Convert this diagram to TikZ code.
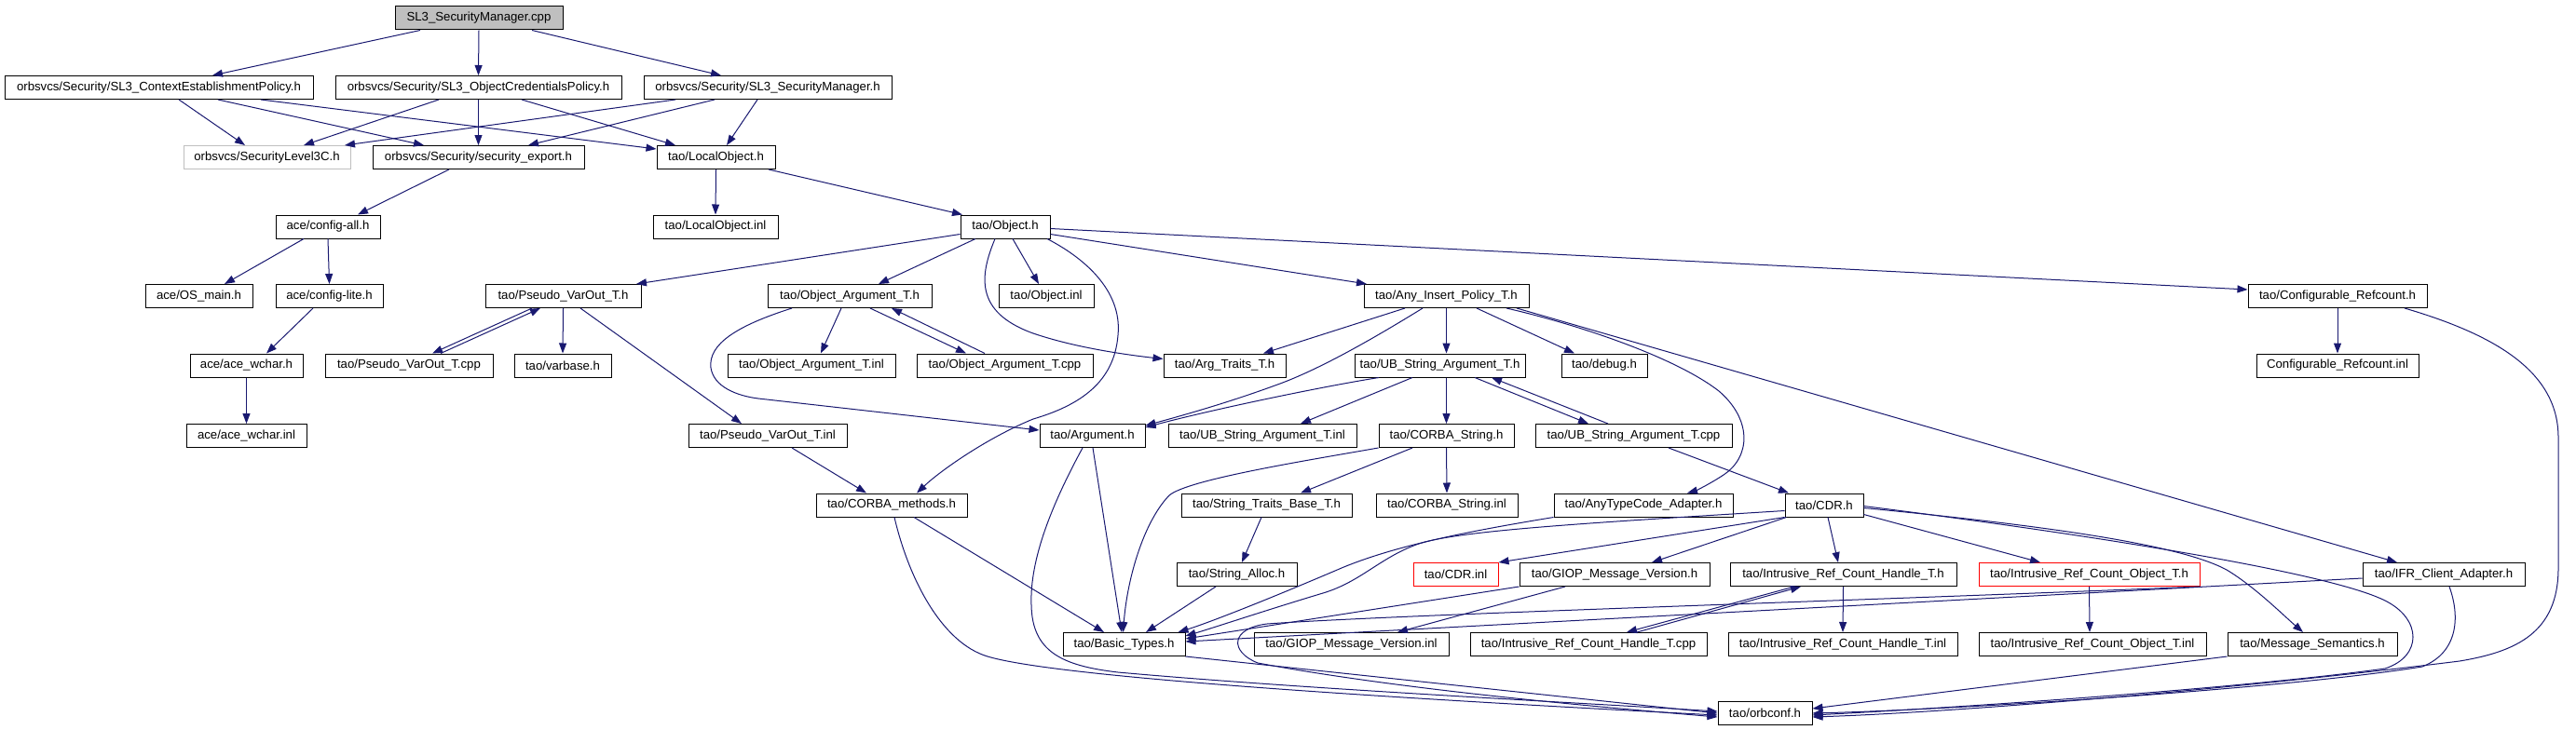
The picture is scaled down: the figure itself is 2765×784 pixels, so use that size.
\documentclass[tikz,border=0pt]{standalone}
\usepackage{fontspec}
\setmainfont{Liberation Sans}
\usetikzlibrary{arrows.meta}
\definecolor{edgeblue}{HTML}{191970}
\definecolor{gnode}{HTML}{BFBFBF}
\tikzset{
  box/.style={draw=black, fill=white, line width=1pt, minimum height=25pt, inner sep=0pt, anchor=center, font=\fontsize{13.2}{15}\selectfont},
  graybox/.style={box, draw=gnode},
  redbox/.style={box, draw=red},
  rootbox/.style={box, fill=gnode},
  edge/.style={draw=edgeblue, line width=1pt, -{Triangle[length=11pt,width=8pt]}}
}
\begin{document}
\begin{tikzpicture}[x=1pt,y=-1pt]
\useasboundingbox (0,0) rectangle (2765,784);
% row 0
\node[rootbox, minimum width=180pt] (cpp) at (514,19.5) {SL3\_SecurityManager.cpp};
% row 1
\node[box, minimum width=331pt] (ctx) at (170.5,94) {orbsvcs/Security/SL3\_ContextEstablishmentPolicy.h};
\node[box, minimum width=307pt] (cred) at (513.5,94) {orbsvcs/Security/SL3\_ObjectCredentialsPolicy.h};
\node[box, minimum width=266pt] (sl3h) at (824,94) {orbsvcs/Security/SL3\_SecurityManager.h};
% row 2
\node[graybox, minimum width=179pt] (lvl3c) at (286.5,169) {orbsvcs/SecurityLevel3C.h};
\node[box, minimum width=227pt] (secexp) at (513.5,169) {orbsvcs/Security/security\_export.h};
\node[box, minimum width=127pt] (locobj) at (768.5,169) {tao/LocalObject.h};
% row 3
\node[box, minimum width=112pt] (cfgall) at (352,243.5) {ace/config-all.h};
\node[box, minimum width=134pt] (locinl) at (768,243.5) {tao/LocalObject.inl};
\node[box, minimum width=96pt] (objh) at (1079,243.5) {tao/Object.h};
% row 4
\node[box, minimum width=115pt] (osmain) at (213.5,318) {ace/OS\_main.h};
\node[box, minimum width=115pt] (cfglite) at (353.5,318) {ace/config-lite.h};
\node[box, minimum width=167pt] (pvoh) at (604.5,318) {tao/Pseudo\_VarOut\_T.h};
\node[box, minimum width=176pt] (oath) at (912,318) {tao/Object\_Argument\_T.h};
\node[box, minimum width=102pt] (objinl) at (1123,318) {tao/Object.inl};
\node[box, minimum width=177pt] (aiph) at (1552.5,318) {tao/Any\_Insert\_Policy\_T.h};
\node[box, minimum width=192pt] (cfgrc) at (2509,318) {tao/Configurable\_Refcount.h};
% row 5
\node[box, minimum width=121pt] (wcharh) at (264.5,392.5) {ace/ace\_wchar.h};
\node[box, minimum width=180pt] (pvocpp) at (439,392.5) {tao/Pseudo\_VarOut\_T.cpp};
\node[box, minimum width=104pt] (varbase) at (604,392.5) {tao/varbase.h};
\node[box, minimum width=180pt] (oatinl) at (871,392.5) {tao/Object\_Argument\_T.inl};
\node[box, minimum width=189pt] (oatcpp) at (1078.5,392.5) {tao/Object\_Argument\_T.cpp};
\node[box, minimum width=131pt] (argtr) at (1314.5,392.5) {tao/Arg\_Traits\_T.h};
\node[box, minimum width=183pt] (ubsah) at (1545.5,392.5) {tao/UB\_String\_Argument\_T.h};
\node[box, minimum width=92pt] (debugh) at (1722,392.5) {tao/debug.h};
\node[box, minimum width=174pt] (cfgrcinl) at (2509,392.5) {Configurable\_Refcount.inl};
% row 6
\node[box, minimum width=129pt] (wcharinl) at (264.5,468) {ace/ace\_wchar.inl};
\node[box, minimum width=170pt] (pvoinl) at (824,468) {tao/Pseudo\_VarOut\_T.inl};
\node[box, minimum width=113pt] (argh) at (1172.5,468) {tao/Argument.h};
\node[box, minimum width=202pt] (ubsainl) at (1355,468) {tao/UB\_String\_Argument\_T.inl};
\node[box, minimum width=145pt] (cstrh) at (1552.5,468) {tao/CORBA\_String.h};
\node[box, minimum width=211pt] (ubsacpp) at (1753.5,468) {tao/UB\_String\_Argument\_T.cpp};
% row 7
\node[box, minimum width=162pt] (cmeth) at (957,542.5) {tao/CORBA\_methods.h};
\node[box, minimum width=183pt] (stbh) at (1359.5,542.5) {tao/String\_Traits\_Base\_T.h};
\node[box, minimum width=152pt] (cstrinl) at (1553,542.5) {tao/CORBA\_String.inl};
\node[box, minimum width=192pt] (atca) at (1764,542.5) {tao/AnyTypeCode\_Adapter.h};
\node[box, minimum width=84pt] (cdrh) at (1958,542.5) {tao/CDR.h};
% row 8
\node[box, minimum width=129pt] (salloc) at (1327.5,617) {tao/String\_Alloc.h};
\node[redbox, minimum width=91pt] (cdrinl) at (1562.5,617) {tao/CDR.inl};
\node[box, minimum width=204pt] (giopH) at (1733,617) {tao/GIOP\_Message\_Version.h};
\node[box, minimum width=243pt] (irchh) at (1978.5,617) {tao/Intrusive\_Ref\_Count\_Handle\_T.h};
\node[redbox, minimum width=237pt] (ircoh) at (2242.5,617) {tao/Intrusive\_Ref\_Count\_Object\_T.h};
\node[box, minimum width=174pt] (ifr) at (2623,617) {tao/IFR\_Client\_Adapter.h};
% row 9
\node[box, minimum width=131pt] (btypes) at (1206.5,692) {tao/Basic\_Types.h};
\node[box, minimum width=209pt] (giopinl) at (1450.5,692) {tao/GIOP\_Message\_Version.inl};
\node[box, minimum width=254pt] (irchcpp) at (1705,692) {tao/Intrusive\_Ref\_Count\_Handle\_T.cpp};
\node[box, minimum width=246pt] (irchinl) at (1978,692) {tao/Intrusive\_Ref\_Count\_Handle\_T.inl};
\node[box, minimum width=244pt] (ircoinl) at (2246,692) {tao/Intrusive\_Ref\_Count\_Object\_T.inl};
\node[box, minimum width=182pt] (msgsem) at (2482,692) {tao/Message\_Semantics.h};
% row 10
\node[box, minimum width=101pt] (orbconf) at (1894.5,766) {tao/orbconf.h};

% edges
\draw[edge] ([xshift=-63pt]cpp.south) -- ([xshift=57.5pt]ctx.north);
\draw[edge] (cpp.south) -- (cred.north);
\draw[edge] ([xshift=57pt]cpp.south) -- ([xshift=-50pt]sl3h.north);
\draw[edge] ([xshift=21.5pt]ctx.south) -- ([xshift=-23.5pt]lvl3c.north);
\draw[edge] ([xshift=63.5pt]ctx.south) -- ([xshift=-58.5pt]secexp.north);
\draw[edge] ([xshift=109.5pt]ctx.south) -- ([yshift=9pt]locobj.west);
\draw[edge] ([xshift=-42.5pt]cred.south) -- ([xshift=39.5pt]lvl3c.north);
\draw[edge] (cred.south) -- (secexp.north);
\draw[edge] ([xshift=46.5pt]cred.south) -- ([xshift=-43.5pt]locobj.north);
\draw[edge] ([xshift=-99pt]sl3h.south) -- ([xshift=83.5pt]lvl3c.north);
\draw[edge] ([xshift=-57pt]sl3h.south) -- ([xshift=53.5pt]secexp.north);
\draw[edge] ([xshift=-11pt]sl3h.south) -- ([xshift=11.5pt]locobj.north);
\draw[edge] ([xshift=-31.5pt]secexp.south) -- ([xshift=32pt]cfgall.north);
\draw[edge] (locobj.south) -- (locinl.north);
\draw[edge] ([xshift=56.5pt]locobj.south) -- ([xshift=-46pt]objh.north);
\draw[edge] ([xshift=-26pt]cfgall.south) -- ([xshift=27.5pt]osmain.north);
\draw[edge] (cfgall.south) -- (cfglite.north);
\draw[edge] ([xshift=-17.5pt]cfglite.south) -- ([xshift=21.5pt]wcharh.north);
\draw[edge] (wcharh.south) -- (wcharinl.north);
\draw[edge] ([yshift=-8pt]objh.west) -- ([xshift=78.5pt]pvoh.north);
\draw[edge] ([xshift=-32pt]objh.south) -- ([xshift=31pt]oath.north);
\draw[edge] ([xshift=8pt]objh.south) -- ([xshift=-8pt]objinl.north);
\draw[edge] ([xshift=-11pt]objh.south) .. controls (1052,295) and (1045,335) .. (1109,358) .. controls (1150,372) and (1200,380) .. ([yshift=7pt]argtr.west);
\draw[edge] ([xshift=45pt]objh.south) .. controls (1160,275) and (1205,310) .. (1200,360) .. controls (1196,410) and (1160,435) .. (1109,450) .. controls (1060,470) and (1010,505) .. ([xshift=27pt]cmeth.north);
\draw[edge] ([yshift=-8pt]objh.east) -- ([xshift=-85.5pt]aiph.north);
\draw[edge] ([yshift=-2pt]objh.east) -- ([yshift=7pt]cfgrc.west);
\draw[edge] ([xshift=-33.5pt]pvoh.south) -- ([xshift=25pt]pvocpp.north);
\draw[edge] ([xshift=34pt]pvocpp.north) -- ([xshift=-24.5pt]pvoh.south);
\draw[edge] (pvoh.south) -- (varbase.north);
\draw[edge] ([xshift=18.5pt]pvoh.south) -- ([xshift=-28pt]pvoinl.north);
\draw[edge] ([xshift=26pt]pvoinl.south) -- ([xshift=-27pt]cmeth.north);
\draw[edge] ([xshift=-9pt]oath.south) -- ([xshift=10pt]oatinl.north);
\draw[edge] ([xshift=22pt]oath.south) -- ([xshift=-41.5pt]oatcpp.north);
\draw[edge] ([xshift=-21.5pt]oatcpp.north) -- ([xshift=45pt]oath.south);
\draw[edge] ([xshift=-62pt]oath.south) .. controls (790,350) and (760,370) .. (763,395) .. controls (766,415) and (790,425) .. (814,428) -- ([yshift=6pt]argh.west);
\draw[edge] ([xshift=-44.5pt]aiph.south) -- ([xshift=41.5pt]argtr.north);
\draw[edge] ([xshift=-25.5pt]aiph.south) .. controls (1480,360) and (1420,395) .. (1374,412) .. controls (1320,432) and (1270,446) .. ([yshift=-2pt]argh.north east);
\draw[edge] (aiph.south) -- ([xshift=7pt]ubsah.north);
\draw[edge] ([xshift=32.5pt]aiph.south) -- ([xshift=-32pt]debugh.north);
\draw[edge] ([xshift=64.5pt]aiph.south) .. controls (1700,350) and (1800,385) .. (1845,420) .. controls (1880,450) and (1880,490) .. (1850,510) .. controls (1835,520) and (1820,527) .. ([xshift=47pt]atca.north);
\draw[edge] ([xshift=75.5pt]aiph.south) -- ([xshift=-50pt]ifr.north);
\draw[edge] ([xshift=-65.5pt]ubsah.south) .. controls (1420,415) and (1300,440) .. ([yshift=-4pt]argh.north east);
\draw[edge] ([xshift=-29.5pt]ubsah.south) -- ([xshift=41pt]ubsainl.north);
\draw[edge] ([xshift=7pt]ubsah.south) -- (cstrh.north);
\draw[edge] ([xshift=37.5pt]ubsah.south) -- ([xshift=-48.5pt]ubsacpp.north);
\draw[edge] ([xshift=-27.5pt]ubsacpp.north) -- ([xshift=55.5pt]ubsah.south);
\draw[edge] (cstrh.south west) .. controls (1400,495) and (1275,515) .. (1255,532) .. controls (1228,560) and (1210,620) .. ([xshift=-1pt]btypes.north);
\draw[edge] ([xshift=-36.5pt]cstrh.south) -- ([xshift=36.5pt]stbh.north);
\draw[edge] (cstrh.south) -- (cstrinl.north);
\draw[edge] ([xshift=37.5pt]ubsacpp.south) -- ([xshift=-38pt]cdrh.north);
\draw[edge] ([xshift=-5.5pt]stbh.south) -- ([xshift=5.5pt]salloc.north);
\draw[edge] ([xshift=-22.5pt]salloc.south) -- ([xshift=23.5pt]btypes.north);
\draw[edge] ([xshift=0.5pt]argh.south) -- ([xshift=-2.5pt]btypes.north);
\draw[edge] ([xshift=-10.5pt]argh.south) .. controls (1130,540) and (1105,600) .. (1107,650) .. controls (1108,700) and (1140,715) .. (1200,722) .. controls (1400,740) and (1700,755) .. ([yshift=2pt]orbconf.west);
\draw[edge] ([xshift=24pt]cmeth.south) -- ([xshift=-21.5pt]btypes.north);
\draw[edge] ([xshift=3pt]cmeth.south) .. controls (975,620) and (1010,690) .. (1060,705) .. controls (1110,720) and (1300,740) .. ([yshift=-2pt]orbconf.west);
\draw[edge] (btypes.south east) -- (orbconf.west);
\draw[edge] (atca.south west) .. controls (1580,570) and (1500,585) .. (1440,610) .. controls (1370,640) and (1300,668) .. ([xshift=-8pt]btypes.north east);
\draw[edge] ([yshift=-6pt]cdrh.west) .. controls (1700,562) and (1560,570) .. (1520,585) .. controls (1480,600) and (1460,625) .. (1420,637) .. controls (1360,655) and (1300,675) .. ([yshift=9pt]btypes.east);
\draw[edge] (cdrh.south west) -- (cdrinl.north east);
\draw[edge] ([xshift=2pt]cdrh.south west) -- ([xshift=40pt]giopH.north);
\draw[edge] ([xshift=4pt]cdrh.south) -- ([xshift=-5.5pt]irchh.north);
\draw[edge] ([yshift=-10pt]cdrh.east) -- ([xshift=-52.5pt]ircoh.north);
\draw[edge] ([yshift=-3pt]cdrh.east) .. controls (2200,565) and (2340,585) .. (2390,612) .. controls (2420,630) and (2450,660) .. ([xshift=-10pt]msgsem.north);
\draw[edge] ([yshift=-1pt]cdrh.east) .. controls (2250,575) and (2500,615) .. (2560,645) .. controls (2600,665) and (2600,705) .. (2560,718) .. controls (2400,740) and (2100,760) .. ([yshift=-2pt]orbconf.east);
\draw[edge] ([xshift=-53pt]giopH.south) -- ([xshift=49.5pt]giopinl.north);
\draw[edge] (giopH.south west) -- ([yshift=6pt]btypes.east);
\draw[edge] ([xshift=-52.5pt]irchh.south) -- ([xshift=41pt]irchcpp.north);
\draw[edge] ([xshift=52pt]irchcpp.north) -- ([xshift=-45.5pt]irchh.south);
\draw[edge] (irchh.south) -- (irchinl.north);
\draw[edge] (ircoh.south) -- ([xshift=-3pt]ircoinl.north);
\draw[edge] (msgsem.south west) -- ([yshift=5pt]orbconf.east);
\draw[edge] ([xshift=6pt]ifr.south) .. controls (2640,660) and (2640,700) .. (2600,716) .. controls (2450,740) and (2100,762) .. (orbconf.east);
\draw[edge] ([yshift=-4pt]ifr.west) -- ([yshift=3pt]btypes.east);
\draw[edge] (cfgrc.south) -- (cfgrcinl.north);
\draw[edge] ([xshift=72pt]cfgrc.south) .. controls (2680,360) and (2746,400) .. (2746,470) -- (2746,610) .. controls (2746,680) and (2700,700) .. (2640,710) .. controls (2400,740) and (2100,765) .. ([yshift=-4pt]orbconf.east);
\draw[edge] (ircoh.south east) .. controls (2000,645) and (1500,660) .. (1360,670) .. controls (1320,675) and (1320,700) .. (1350,712) .. controls (1500,740) and (1700,758) .. ([yshift=-4pt]orbconf.west);
\end{tikzpicture}
\end{document}
